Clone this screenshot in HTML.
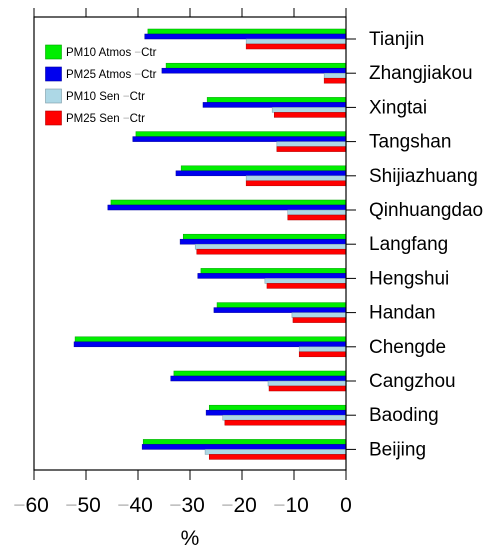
<!DOCTYPE html>
<html><head><meta charset="utf-8"><style>
html,body{margin:0;padding:0;background:#fff;}
svg{display:block;font-family:"Liberation Sans",sans-serif;}
</style></head><body>
<svg id="chart" width="491" height="550" viewBox="0 0 491 550"></svg>
<script>
const categories=["Tianjin","Zhangjiakou","Xingtai","Tangshan","Shijiazhuang","Qinhuangdao","Langfang","Hengshui","Handan","Chengde","Cangzhou","Baoding","Beijing"];
const pm10Atmos=[-38.1,-34.6,-26.7,-40.4,-31.7,-45.2,-31.3,-27.9,-24.8,-52.1,-33.1,-26.3,-39.0];
const pm25Atmos=[-38.7,-35.4,-27.5,-41.0,-32.7,-45.8,-31.9,-28.5,-25.4,-52.3,-33.7,-26.9,-39.2];
const pm10Sen=[-19.2,-4.2,-14.2,-13.3,-19.2,-11.2,-29.0,-15.6,-10.4,-9.0,-15.0,-23.7,-27.1];
const pm25Sen=[-19.2,-4.2,-13.8,-13.3,-19.2,-11.2,-28.7,-15.2,-10.2,-9.0,-14.8,-23.3,-26.3];
const xTicks=[-60,-50,-40,-30,-20,-10,0];
const seriesNames=["PM10 Atmos","PM25 Atmos","PM10 Sen","PM25 Sen"];

const NS="http://www.w3.org/2000/svg";
const svg=document.getElementById('chart');
const L=34,R=346,T=17,B=470;
const x=v=>L+(v+60)/60*(R-L);
const yc=i=>39+i*34.2;
function el(tag,attrs,txt){const e=document.createElementNS(NS,tag);for(const k in attrs)e.setAttribute(k,attrs[k]);if(txt!==undefined)e.textContent=txt;svg.appendChild(e);return e;}

const series=[pm10Atmos,pm25Atmos,pm10Sen,pm25Sen];
const fills=["#00ee00","#0000ee","#add8e6","#ff0000"];
const strokes=["#00a000","#0000a0","#7a9aa6","#b00000"];
const keys=["pm10-atmos","pm25-atmos","pm10-sen","pm25-sen"];
const bh=5;
categories.forEach((c,i)=>{
  series.forEach((s,k)=>{
    const y0=yc(i)-10+k*bh;
    const r=el('rect',{x:x(s[i]),y:y0,width:x(0)-x(s[i]),height:bh,fill:fills[k],stroke:strokes[k],'stroke-width':0.5});
    
    
  });
  const t=el('line',{x1:R,x2:R+10,y1:yc(i),y2:yc(i),stroke:'#000','stroke-width':1});
  
  
  const lb=el('text',{x:369,y:yc(i)+6,'font-size':19,fill:'#000'},c);
  
  
});
const fr=el('rect',{x:L,y:T,width:R-L,height:B-T,fill:'none',stroke:'#000','stroke-width':1.2});


xTicks.forEach(v=>{
  const a=el('line',{x1:x(v),x2:x(v),y1:B,y2:B+10,stroke:'#000','stroke-width':1});
  
  
  const b=el('line',{x1:x(v),x2:x(v),y1:T,y2:T-9,stroke:'#000','stroke-width':1});
  
  
  const t=el('text',{x:x(v)-(v<0?3:0),y:512,'font-size':21,'text-anchor':'middle',fill:'#000'});
  
  
  if(v<0){const m=document.createElementNS(NS,'tspan');m.setAttribute('fill','#bbb');m.textContent='−';t.appendChild(m);}
  const n=document.createElementNS(NS,'tspan');n.textContent=Math.abs(v);t.appendChild(n);
});
const xt=el('text',{x:190,y:545,'font-size':21,'text-anchor':'middle',fill:'#000'},'%');


seriesNames.forEach((nm,k)=>{
  const y0=45+k*22;
  const r=el('rect',{x:45.5,y:y0,width:16,height:14,fill:fills[k],stroke:strokes[k],'stroke-width':0.6});
  
  
  const t=el('text',{x:66,y:y0+11,'font-size':11.5,fill:'#000'});
  
  
  const a=document.createElementNS(NS,'tspan');a.textContent=nm+' ';t.appendChild(a);
  const m=document.createElementNS(NS,'tspan');m.setAttribute('fill','#aaa');m.textContent='−';t.appendChild(m);
  const b=document.createElementNS(NS,'tspan');b.textContent='Ctr';t.appendChild(b);
});
</script>
</body></html>
